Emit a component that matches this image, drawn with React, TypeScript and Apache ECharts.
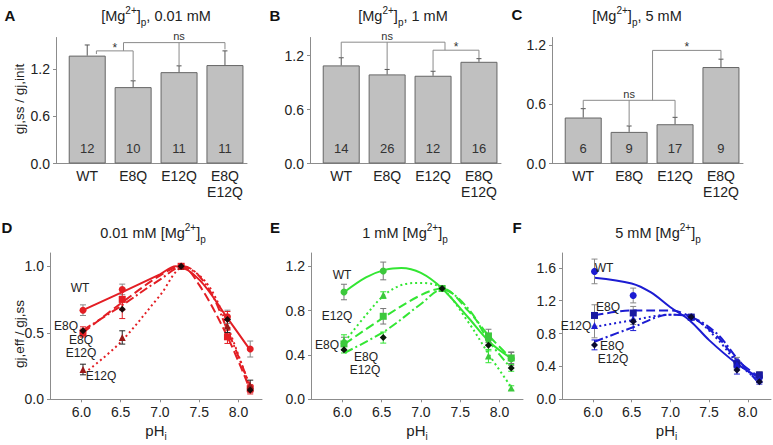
import React, { useEffect, useRef } from 'react';
import * as echarts from 'echarts';

const FONT = '"Liberation Sans", Arial, Helvetica, sans-serif';

// ---------- Panels A–C (bar charts) ----------
const barCategories = ['WT', 'E8Q', 'E12Q', 'E8Q\nE12Q'];
const barPositions = [0, 1, 2, 3];
const meanA = [1.37, 0.97, 1.16, 1.25];
const semA = [0.135, 0.08, 0.08, 0.18];
const nA = [12, 10, 11, 11];
const meanB = [1.09, 0.99, 0.975, 1.13];
const semB = [0.085, 0.055, 0.05, 0.035];
const nB = [14, 26, 12, 16];
const meanC = [0.467, 0.321, 0.399, 0.98];
const semC = [0.09, 0.06, 0.07, 0.08];
const nC = [6, 9, 17, 9];
const barYTicks = [0, 0.6, 1.2];

const bracketsA = [
  { label: '*', x0: 0.2, x1: 1, top: 1.43, foot0: 1.39, foot1: 1.05 },
  { label: 'ns', x0: 0.79, x1: 3, top: 1.535, foot0: 1.43, foot1: 1.45, xm: 2, footm: 1.24 },
];
const bracketsB = [
  { label: 'ns', x0: 0, x1: 2.26, top: 1.348, foot0: 1.18, foot1: 1.259, xm: 1, footm: 1.05 },
  { label: '*', x0: 2, x1: 3, top: 1.259, foot0: 1.03, foot1: 1.17 },
];
const bracketsC = [
  { label: 'ns', x0: 0, x1: 2, top: 0.642, foot0: 0.56, foot1: 0.47, xm: 1, footm: 0.385 },
  { label: '*', x0: 1.51, x1: 3, top: 1.149, foot0: 0.642, foot1: 1.06 },
];

// ---------- Panels D–F (pH curves) ----------
const pH = [6.02, 6.52, 7.27, 7.86, 8.15];
const pHTicks = [6.0, 6.5, 7.0, 7.5, 8.0];
const yTicksD = [0, 0.5, 1.0];
const yTicksE = [0, 0.4, 0.8, 1.2];
const yTicksF = [0, 0.4, 0.8, 1.2, 1.6];

// D : 0.01 mM
const dWT = [0.67, 0.826, 1.0, 0.62, 0.378];
const dWTsem = [0.04, 0.04, 0, 0.05, 0.06];
const dE8Q = [0.498, 0.751, 1.0, 0.47, 0.08];
const dE8Qsem = [0.03, 0.08, 0, 0.05, 0.03];
const dE12Q = [0.224, 0.465, 1.0, 0.552, 0.104];
const dE12Qsem = [0.04, 0.05, 0, 0.05, 0.04];
const dDbl = [0.515, 0.677, 1.0, 0.6, 0.07];
const dDblsem = [0.03, 0.07, 0, 0.06, 0.03];
const fitD_WT = [[6.02, 0.67], [6.5, 0.8], [7.0, 0.94], [7.2, 1.0], [7.5, 0.9], [7.86, 0.61], [8.15, 0.37]];
const fitD_E8Q = [[6.02, 0.5], [6.5, 0.72], [7.0, 0.93], [7.27, 1.0], [7.5, 0.86], [7.86, 0.47], [8.15, 0.07]];
const fitD_E12Q = [[6.09, 0.22], [6.5, 0.43], [7.0, 0.78], [7.3, 0.99], [7.6, 0.87], [7.86, 0.55], [8.15, 0.08]];
const fitD_Dbl = [[6.02, 0.52], [6.5, 0.7], [7.0, 0.9], [7.3, 1.0], [7.6, 0.85], [7.86, 0.52], [8.15, 0.1]];

// E : 1 mM
const eWT = [0.968, 1.158, 1.0, 0.54, 0.367];
const eWTsem = [0.07, 0.08, 0, 0.05, 0.06];
const eE8Q = [0.5, 0.749, 1.0, 0.572, 0.373];
const eE8Qsem = [0.06, 0.07, 0, 0.06, 0.05];
const eE12Q = [0.532, 0.94, 1.0, 0.39, 0.102];
const eE12Qsem = [0.05, 0.03, 0, 0.06, 0.02];
const eDbl = [0.448, 0.557, 1.0, 0.487, 0.283];
const eDblsem = [0.03, 0.05, 0, 0.05, 0.03];
const fitE_WT = [[6.03, 0.97], [6.3, 1.1], [6.55, 1.17], [6.75, 1.185], [7.0, 1.14], [7.27, 1.0], [7.6, 0.74], [7.87, 0.52], [8.15, 0.37]];
const fitE_E8Q = [[6.03, 0.5], [6.55, 0.75], [7.0, 0.94], [7.27, 1.0], [7.6, 0.8], [7.87, 0.57], [8.15, 0.37]];
const fitE_E12Q = [[6.03, 0.52], [6.3, 0.76], [6.55, 0.95], [6.8, 1.04], [7.0, 1.05], [7.27, 1.0], [7.6, 0.7], [7.87, 0.4], [8.15, 0.11]];
const fitE_Dbl = [[6.03, 0.42], [6.55, 0.62], [7.0, 0.86], [7.27, 0.99], [7.6, 0.82], [7.87, 0.52], [8.15, 0.28]];

// F : 5 mM
const fWT = [1.556, 1.263, 1.0, 0.45, 0.27];
const fWTsem = [0.15, 0.09, 0, 0.06, 0.04];
const fE8Q = [1.02, 1.05, 1.0, 0.43, 0.296];
const fE8Qsem = [0.13, 0.08, 0, 0.05, 0.04];
const fE12Q = [0.898, 0.98, 1.0, 0.42, 0.24];
const fE12Qsem = [0.15, 0.07, 0, 0.05, 0.03];
const fDbl = [0.662, 0.946, 1.0, 0.357, 0.215];
const fDblsem = [0.06, 0.11, 0, 0.05, 0.03];
const fitF_WT = [[6.02, 1.48], [6.5, 1.41], [6.75, 1.3], [7.0, 1.12], [7.25, 0.96], [7.5, 0.72], [7.85, 0.44], [8.15, 0.26]];
const fitF_E8Q = [[6.02, 1.02], [6.5, 1.08], [7.0, 1.08], [7.27, 1.0], [7.6, 0.77], [7.86, 0.48], [8.15, 0.27]];
const fitF_E12Q = [[6.02, 0.88], [6.5, 0.96], [7.0, 1.03], [7.27, 1.0], [7.6, 0.74], [7.86, 0.45], [8.15, 0.22]];
const fitF_Dbl = [[6.02, 0.7], [6.5, 0.87], [7.0, 1.03], [7.27, 1.0], [7.6, 0.8], [7.86, 0.5], [8.15, 0.19]];

const RED = '#e31e24';
const GREEN = '#33e633';
const BLUE = '#1c1cd2';
const AXIS = '#8c8c8c';
const TXT = '#222';

const DASH = [9, 4];
const DOT = [2, 3];
const DASHDOT = [9, 3, 2, 3];

function errRender(color: string, cap: number, upOnly: boolean) {
  return (params: any, api: any) => {
    const x = api.value(0), y = api.value(1), e = api.value(2);
    if (!e) return { type: 'group', children: [] };
    const t = api.coord([x, y + e]);
    const b = api.coord([x, upOnly ? y : y - e]);
    const st = { stroke: color, lineWidth: 1 };
    const children: any[] = [
      { type: 'line', shape: { x1: t[0], y1: t[1], x2: b[0], y2: b[1] }, style: st },
      { type: 'line', shape: { x1: t[0] - cap, y1: t[1], x2: t[0] + cap, y2: t[1] }, style: st },
    ];
    if (!upOnly) children.push({ type: 'line', shape: { x1: b[0] - cap, y1: b[1], x2: b[0] + cap, y2: b[1] }, style: st });
    return { type: 'group', children };
  };
}

function bracketRender(list: any[]) {
  return (params: any, api: any) => {
    const b = list[params.dataIndex];
    const c = (x: number, y: number) => api.coord([x, y]);
    const st = { stroke: '#8a8a8a', lineWidth: 1, fill: null };
    const children: any[] = [
      { type: 'polyline', shape: { points: [c(b.x0, b.foot0), c(b.x0, b.top), c(b.x1, b.top), c(b.x1, b.foot1)] }, style: st },
    ];
    let lx = (b.x0 + b.x1) / 2;
    if (b.xm !== undefined) {
      const m0 = c(b.xm, b.top), m1 = c(b.xm, b.footm);
      children.push({ type: 'line', shape: { x1: m0[0], y1: m0[1], x2: m1[0], y2: m1[1] }, style: st });
      lx = b.xm;
    }
    const lp = c(lx, b.top);
    children.push({
      type: 'text', x: lp[0], y: lp[1] + (b.label === '*' ? 3 : -1),
      style: { text: b.label, fontSize: b.label === '*' ? 12 : 11, fontFamily: FONT, fill: '#333', align: 'center', verticalAlign: 'bottom' },
    });
    return { type: 'group', children };
  };
}

const grids = [
  { left: 56, top: 37.5, width: 191, height: 126 },
  { left: 310, top: 37.5, width: 191, height: 126 },
  { left: 552, top: 37.5, width: 191, height: 126 },
  { left: 50, top: 253, width: 212, height: 146.3 },
  { left: 311, top: 253, width: 212, height: 146.3 },
  { left: 562, top: 253, width: 209, height: 146.3 },
];

const yMax = [1.6, 1.4, 1.28, 1.1, 1.32, 1.78];
const yTickSets = [barYTicks, barYTicks, barYTicks, yTicksD, yTicksE, yTicksF];

function buildOption() {
  const axisLine = { show: true, onZero: false, lineStyle: { color: AXIS, width: 1 } };
  const xAxis: any[] = [];
  const yAxis: any[] = [];
  for (let i = 0; i < 6; i++) {
    const isBar = i < 3;
    xAxis.push({
      type: 'value', gridIndex: i,
      min: isBar ? -0.68 : 5.6, max: isBar ? 3.48 : 8.3,
      axisLine, splitLine: { show: false },
      axisTick: isBar ? { show: false } : { show: true, inside: false, length: 3, lineStyle: { color: AXIS }, customValues: pHTicks },
      axisLabel: isBar
        ? { customValues: barPositions, formatter: (v: number) => barCategories[Math.round(v)], fontSize: 14, lineHeight: 16, color: TXT, fontFamily: FONT, margin: 4 }
        : { customValues: pHTicks, formatter: (v: number) => v.toFixed(1), fontSize: 14, color: TXT, fontFamily: FONT, margin: 6 },
      name: isBar ? '' : '{m|pH}{s|i}',
      nameLocation: 'middle', nameGap: 20,
      nameTextStyle: {
        rich: {
          m: { fontSize: 15, fontFamily: FONT, color: TXT, lineHeight: 22 },
          s: { fontSize: 10, fontFamily: FONT, color: TXT, lineHeight: 12, verticalAlign: 'bottom' },
        },
      },
    });
    yAxis.push({
      type: 'value', gridIndex: i, min: 0, max: yMax[i],
      axisLine, splitLine: { show: false },
      axisTick: { show: true, inside: false, length: 3, lineStyle: { color: AXIS }, customValues: yTickSets[i] },
      axisLabel: { customValues: yTickSets[i], formatter: (v: number) => v.toFixed(1), fontSize: 14, color: TXT, fontFamily: FONT, margin: 6 },
    });
  }

  const series: any[] = [];
  const bars = [
    [meanA, semA, nA, bracketsA],
    [meanB, semB, nB, bracketsB],
    [meanC, semC, nC, bracketsC],
  ] as any[];
  bars.forEach(([mean, sem, n, br], i) => {
    series.push({
      type: 'bar', xAxisIndex: i, yAxisIndex: i, barWidth: 37,
      data: mean.map((v: number, k: number) => [barPositions[k], v]),
      itemStyle: { color: '#c0c0c0', borderColor: '#666', borderWidth: 1 },
      label: { show: true, position: 'insideBottom', distance: 9, formatter: (p: any) => String(n[p.dataIndex]), fontSize: 13, color: '#333', fontFamily: FONT },
      z: 2,
    });
    series.push({
      type: 'custom', xAxisIndex: i, yAxisIndex: i, z: 3,
      renderItem: errRender('#555', 2.5, true),
      data: mean.map((v: number, k: number) => [barPositions[k], v, sem[k]]),
    });
    series.push({
      type: 'custom', xAxisIndex: i, yAxisIndex: i, z: 3,
      renderItem: bracketRender(br),
      data: br.map((b: any) => [b.x0, b.top]),
    });
  });

  const linePanels = [
    {
      idx: 3, color: RED, sets: [
        { mean: dWT, sem: dWTsem, fit: fitD_WT, symbol: 'circle', mc: RED, ec: '#888', dash: 'solid' },
        { mean: dE8Q, sem: dE8Qsem, fit: fitD_E8Q, symbol: 'rect', mc: RED, ec: RED, dash: DASH },
        { mean: dE12Q, sem: dE12Qsem, fit: fitD_E12Q, symbol: 'triangle', mc: '#9a1a1a', ec: '#222', dash: DOT },
        { mean: dDbl, sem: dDblsem, fit: fitD_Dbl, symbol: 'diamond', mc: '#1a0a0a', ec: RED, dash: DASHDOT },
      ],
    },
    {
      idx: 4, color: GREEN, sets: [
        { mean: eWT, sem: eWTsem, fit: fitE_WT, symbol: 'circle', mc: '#3cc83c', ec: '#777', dash: 'solid' },
        { mean: eE8Q, sem: eE8Qsem, fit: fitE_E8Q, symbol: 'rect', mc: '#3cc83c', ec: '#777', dash: DASH },
        { mean: eE12Q, sem: eE12Qsem, fit: fitE_E12Q, symbol: 'triangle', mc: '#3cc83c', ec: GREEN, dash: DOT },
        { mean: eDbl, sem: eDblsem, fit: fitE_Dbl, symbol: 'diamond', mc: '#0a1a0a', ec: GREEN, dash: DASHDOT },
      ],
    },
    {
      idx: 5, color: BLUE, sets: [
        { mean: fWT, sem: fWTsem, fit: fitF_WT, symbol: 'circle', mc: BLUE, ec: '#888', dash: 'solid' },
        { mean: fE8Q, sem: fE8Qsem, fit: fitF_E8Q, symbol: 'rect', mc: '#1a1aa0', ec: '#888', dash: DASH },
        { mean: fE12Q, sem: fE12Qsem, fit: fitF_E12Q, symbol: 'triangle', mc: BLUE, ec: '#888', dash: DOT },
        { mean: fDbl, sem: fDblsem, fit: fitF_Dbl, symbol: 'diamond', mc: '#0a0a30', ec: BLUE, dash: DASHDOT },
      ],
    },
  ];

  linePanels.forEach((p) => {
    p.sets.forEach((s) => {
      series.push({
        type: 'line', xAxisIndex: p.idx, yAxisIndex: p.idx, data: s.fit, smooth: 0.35,
        showSymbol: false, symbol: 'none',
        lineStyle: { color: p.color, width: 2, type: s.dash as any },
        z: 2,
      });
    });
    p.sets.forEach((s) => {
      series.push({
        type: 'custom', xAxisIndex: p.idx, yAxisIndex: p.idx, z: 3,
        renderItem: errRender(s.ec, 3, false),
        data: pH.map((x, k) => [x, s.mean[k], s.sem[k]]),
      });
    });
    p.sets.forEach((s) => {
      series.push({
        type: 'scatter', xAxisIndex: p.idx, yAxisIndex: p.idx, symbol: s.symbol, symbolSize: 7,
        data: pH.map((x, k) => [x, s.mean[k]]),
        itemStyle: { color: s.mc, opacity: 1 },
        z: 4,
      });
    });
  });

  const richTitle = {
    n: { fontSize: 14.5, fontFamily: FONT, fill: TXT, lineHeight: 22 },
    sup: { fontSize: 10, fontFamily: FONT, fill: TXT, lineHeight: 10, verticalAlign: 'top' },
    sub: { fontSize: 10, fontFamily: FONT, fill: TXT, lineHeight: 10, verticalAlign: 'bottom' },
  };
  const title = (x: number, y: number, text: string) => ({
    type: 'text', x, y, silent: true,
    style: { text, rich: richTitle, align: 'center', verticalAlign: 'middle', fontFamily: FONT, fontSize: 14.5, fill: TXT },
  });
  const letter = (x: number, y: number, t: string) => ({
    type: 'text', x, y, silent: true,
    style: { text: t, fontSize: 15, fontWeight: 'bold', fontFamily: FONT, fill: '#111', align: 'center', verticalAlign: 'middle' },
  });
  const note = (x: number, y: number, t: string) => ({
    type: 'text', x, y, silent: true, z: 10,
    style: { text: t, fontSize: 12, fontFamily: FONT, fill: TXT, align: 'center', verticalAlign: 'middle' },
  });
  const yName = (x: number, y: number, t: string) => ({
    type: 'text', x, y, rotation: Math.PI / 2, silent: true,
    style: { text: t, fontSize: 13.5, fontFamily: FONT, fill: TXT, align: 'center', verticalAlign: 'middle' },
  });

  const graphic: any[] = [
    letter(10, 15, 'A'), letter(275, 15, 'B'), letter(517, 14, 'C'),
    letter(7, 227, 'D'), letter(275, 227, 'E'), letter(517, 227, 'F'),
    title(156, 16, '{n|[Mg}{sup|2+}{n|]}{sub|p}{n|, 0.01 mM}'),
    title(403, 16, '{n|[Mg}{sup|2+}{n|]}{sub|p}{n|, 1 mM}'),
    title(637, 16, '{n|[Mg}{sup|2+}{n|]}{sub|p}{n|, 5 mM}'),
    title(153, 233, '{n|0.01 mM [Mg}{sup|2+}{n|]}{sub|p}'),
    title(405, 233, '{n|1 mM [Mg}{sup|2+}{n|]}{sub|p}'),
    title(658, 233, '{n|5 mM [Mg}{sup|2+}{n|]}{sub|p}'),
    yName(19, 99, 'gj,ss / gj,init'),
    yName(19, 334, 'gj,eff / gj,ss'),
    note(80, 288, 'WT'), note(66, 326, 'E8Q'), note(81, 340, 'E8Q'), note(81, 353, 'E12Q'), note(101, 376, 'E12Q'),
    note(342, 275, 'WT'), note(337, 316, 'E12Q'), note(327, 345, 'E8Q'), note(366, 357, 'E8Q'), note(365, 370, 'E12Q'),
    note(604, 268, 'WT'), note(608, 307, 'E8Q'), note(576, 326, 'E12Q'), note(612, 346, 'E8Q'), note(613, 359, 'E12Q'),
  ];

  return {
    animation: false,
    backgroundColor: '#ffffff',
    textStyle: { fontFamily: FONT },
    grid: grids.map((g) => ({ ...g, containLabel: false, outerBoundsMode: 'none' })),
    xAxis, yAxis, series, graphic,
  };
}

export default function App() {
  const ref = useRef<HTMLDivElement>(null);
  useEffect(() => {
    if (!ref.current) return;
    const chart = echarts.init(ref.current, undefined, { renderer: 'svg' });
    chart.setOption(buildOption() as any);
    return () => chart.dispose();
  }, []);
  return <div ref={ref} style={{ position: 'fixed', left: 0, top: 0, width: 773, height: 445, background: '#fff' }} />;
}
